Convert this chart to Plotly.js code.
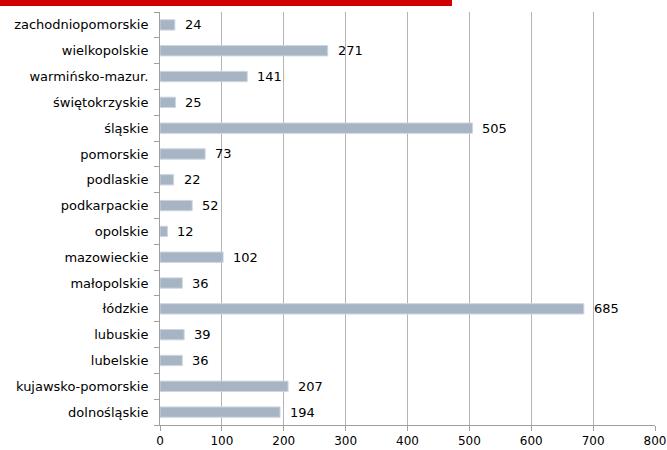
<!DOCTYPE html>
<html>
<head>
<meta charset="utf-8">
<script src="https://cdn.plot.ly/plotly-3.0.1.min.js"></script>
<style>html,body{margin:0;padding:0;background:#fff;}#chart{width:667px;height:450px;}</style>
</head>
<body>
<div id="chart"></div>
<script>
const categories = ["dolnośląskie","kujawsko-pomorskie","lubelskie","lubuskie","łódzkie","małopolskie","mazowieckie","opolskie","podkarpackie","podlaskie","pomorskie","śląskie","świętokrzyskie","warmińsko-mazur.","wielkopolskie","zachodniopomorskie"];
const values = [194,207,36,39,685,36,102,12,52,22,73,505,25,141,271,24];
const xTicks = [0,100,200,300,400,500,600,700,800];

const font = {family: "DejaVu Sans, Verdana, sans-serif", size: 13, color: "#000"};
const xFont = {family: "DejaVu Sans, Verdana, sans-serif", size: 12, color: "#000"};

const trace = {
  type: "bar",
  orientation: "h",
  x: values,
  y: categories,
  marker: {color: "#A6B4C4", line: {color: "#CDD6E0", width: 1}},
  hoverinfo: "none"
};

const annotations = values.map((v, i) => ({
  x: v, y: categories[i], xref: "x", yref: "y",
  text: String(v), showarrow: false, xanchor: "left", xshift: 8,
  font: font
}));

const layout = {
  width: 667, height: 450,
  margin: {l: 160, r: 12, t: 12, b: 25},
  paper_bgcolor: "#fff", plot_bgcolor: "#fff",
  font: font,
  showlegend: false,
  bargap: 0.6,
  xaxis: {
    range: [0, 800], tickvals: xTicks, ticktext: xTicks.map(String),
    showgrid: true, gridcolor: "#B4B4B4", gridwidth: 1,
    zeroline: false, showline: true, linecolor: "#A0A0A0", linewidth: 1,
    ticks: "outside", ticklen: 5, tickcolor: "#A0A0A0",
    tickfont: xFont, fixedrange: true
  },
  yaxis: {
    type: "category", categoryorder: "array", categoryarray: categories,
    showgrid: false, zeroline: false, showline: true, linecolor: "#A0A0A0", linewidth: 1,
    ticks: "outside", ticklen: 5, tickcolor: "#A0A0A0", tickson: "boundaries",
    tickfont: font, ticklabelstandoff: 8, fixedrange: true
  },
  annotations: annotations,
  shapes: [{
    type: "rect", xref: "paper", yref: "paper",
    x0: -160/495, x1: (452-160)/495,
    y0: (425-6)/413, y1: 425/413 + 0.01,
    fillcolor: "#D00000", line: {width: 0}, layer: "above"
  }]
};

Plotly.newPlot("chart", [trace], layout, {staticPlot: true, displayModeBar: false});
</script>
</body>
</html>
